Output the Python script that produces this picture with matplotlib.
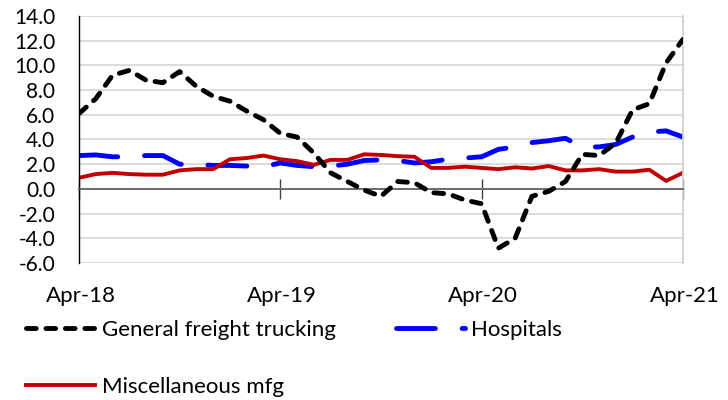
import matplotlib.pyplot as plt
import matplotlib.transforms as mtransforms

plt.rcParams['font.family'] = ['Lato', 'DejaVu Sans']

months = list(range(37))  # Apr-18 .. Apr-21, monthly
tick_pos = [0, 12, 24, 36]
tick_labels = ['Apr-18', 'Apr-19', 'Apr-20', 'Apr-21']
y_ticks = [-6, -4, -2, 0, 2, 4, 6, 8, 10, 12, 14]

freight = [6.1, 7.3, 9.2, 9.6, 8.8, 8.6, 9.5, 8.3, 7.5, 7.1, 6.3, 5.6,
           4.5, 4.2, 2.9, 1.3, 0.6, -0.1, -0.6, 0.6, 0.5, -0.3, -0.4, -0.9,
           -1.2, -4.8, -4.0, -0.6, -0.2, 0.6, 2.8, 2.7, 3.7, 6.4, 6.9, 10.2,
           12.1]
hospitals = [2.7, 2.75, 2.6, 2.6, 2.7, 2.7, 2.0, 2.0, 1.9, 1.9, 1.85, 1.8,
             2.1, 1.9, 1.8, 1.85, 2.0, 2.3, 2.35, 2.3, 2.1, 2.2, 2.4, 2.5,
             2.6, 3.2, 3.4, 3.75, 3.9, 4.1, 3.4, 3.4, 3.6, 4.2, 4.6, 4.7,
             4.2]
misc_mfg = [0.9, 1.2, 1.3, 1.2, 1.15, 1.15, 1.5, 1.6, 1.6, 2.4, 2.5, 2.7,
            2.4, 2.25, 1.95, 2.35, 2.35, 2.8, 2.75, 2.65, 2.6, 1.7, 1.7, 1.8,
            1.7, 1.6, 1.75, 1.65, 1.85, 1.5, 1.5, 1.6, 1.4, 1.4, 1.55, 0.65,
            1.3]

fig = plt.figure(figsize=(7.28, 4.0), dpi=100)
ax = fig.add_axes([0.1085, 0.3425, 0.8295, 0.6175])

l1, = ax.plot(months, freight, color='black', lw=3.5, linestyle=(0, (2, 2)),
              dash_capstyle='round', label='General freight trucking',
              zorder=3)
l2, = ax.plot(months, hospitals, color='#0000ff', lw=3.5,
              linestyle=(0, (8, 5.5)), dash_capstyle='round',
              label='Hospitals', zorder=2)
l3, = ax.plot(months, misc_mfg, color='#c00000', lw=2.8,
              label='Miscellaneous mfg', zorder=2.5)

ax.set_xlim(0, 36)
ax.set_ylim(-6, 14)
ax.set_yticks(y_ticks)
ax.set_yticklabels([f'{v:.1f}' for v in y_ticks], fontsize=15)
ax.tick_params(axis='y', length=0, pad=17)
ax.yaxis.grid(True, color='#d9d9d9', lw=1.3)
ax.set_axisbelow(True)

ax.spines['bottom'].set_position(('data', 0))
ax.spines['bottom'].set_color('#595959')
ax.spines['bottom'].set_linewidth(1.2)
ax.spines['left'].set_color('black')
ax.spines['left'].set_linewidth(1.0)
ax.spines['top'].set_visible(False)
ax.spines['right'].set_color('#d0d0d0')
ax.spines['right'].set_linewidth(1.3)

ax.set_xticks(tick_pos)
ax.set_xticklabels([])
ax.tick_params(axis='x', direction='inout', length=14, width=1.0,
               color='#404040')

trans = mtransforms.blended_transform_factory(ax.transData, ax.transAxes)
for p, lab in zip(tick_pos, tick_labels):
    ax.text(p + 0.1, -0.135, lab, transform=trans, ha='center', va='center',
            fontsize=16)

fig.legend([l1, l3, l2], [l1.get_label(), l3.get_label(), l2.get_label()],
           loc='upper left', bbox_to_anchor=(0.036, 0.2), ncol=2,
           frameon=False, fontsize=16, handlelength=3.1, handletextpad=0.3,
           columnspacing=2.7, labelspacing=1.65, borderaxespad=0,
           borderpad=0)

fig.savefig('out.png', dpi=100)
